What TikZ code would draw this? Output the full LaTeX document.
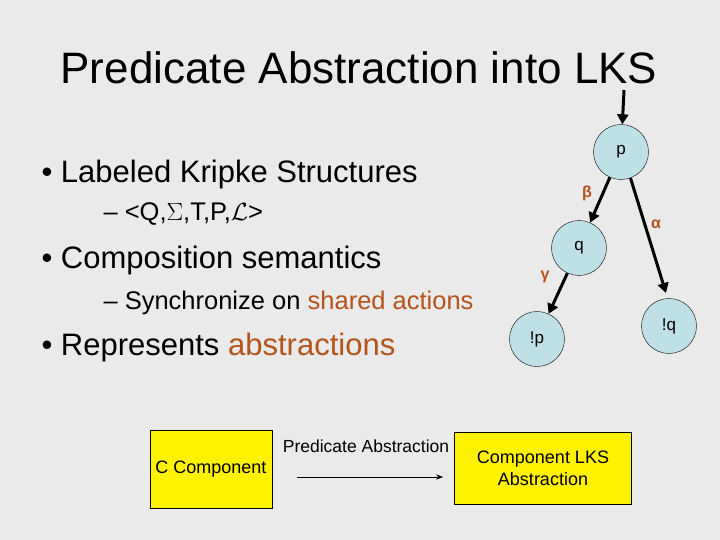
\documentclass[tikz,border=0pt]{standalone}
\usepackage{fontspec}
\setmainfont{Liberation Sans}
\usetikzlibrary{arrows.meta}
\definecolor{bg}{HTML}{EAEAEA}
\definecolor{st}{HTML}{BFE0E6}
\definecolor{lab}{HTML}{B5531A}
\tikzset{
 state/.style={circle,draw=black,fill=st,minimum size=55pt,inner sep=0pt,font=\fontsize{17}{19}\selectfont},
 edge/.style={line width=3pt,-{Triangle[length=10pt,width=11pt]}},
 elab/.style={text=lab,font=\fontsize{16}{19}\selectfont\bfseries},
 ybox/.style={draw=black,fill=yellow,font=\fontsize{18}{22}\selectfont,align=center},
 bul/.style={anchor=west,font=\fontsize{31}{36}\selectfont},
 sub/.style={anchor=west,font=\fontsize{25.5}{30}\selectfont}
}
\begin{document}
\begin{tikzpicture}[x=1pt,y=-1pt]
\fill[bg] (0,0) rectangle (720,540);
\useasboundingbox (0,0) rectangle (720,540);
\node[font=\fontsize{44}{48}\selectfont] (title) at (359,68) {Predicate Abstraction into LKS};
\node[bul] (b1) at (38,174) {• Labeled Kripke Structures};
\node[sub] (s1) at (100,214) {– <Q,$\Sigma$,T,P,$\mathcal{L}$>};
\node[bul] (b2) at (38,260) {• Composition semantics};
\node[sub] (s2) at (100,303) {– Synchronize on \textcolor{lab}{shared actions}};
\node[bul] (b3) at (38,347) {• Represents \textcolor{lab}{abstractions}};
\node[state] (p) at (621,152) {p};
\node[state] (q) at (579,248) {q};
\node[state] (np) at (537,339) {!p};
\node[state] (nq) at (669,326) {!q};
\coordinate (in) at (624,90);
\draw[edge] (in) -- (p);
\draw[edge] (p) -- (q);
\draw[edge] (q) -- (np);
\coordinate (aend) at (666,293);
\draw[edge] (p.-70) -- (aend);
\node[elab] (beta) at (587,193) {β};
\node[elab] (alpha) at (656,224) {α};
\node[elab] (gamma) at (545,277) {γ};
\node[ybox,minimum width=122pt,minimum height=78pt] (c) at (211,469) {C Component};
\node[ybox,minimum width=177pt,minimum height=72pt] (lks) at (543,468) {Component LKS\\Abstraction};
\coordinate (a1) at (297,477);
\coordinate (a2) at (443,477);
\draw[-{Stealth[length=7pt]}] (a1) -- (a2);
\node[font=\fontsize{17.5}{20}\selectfont] (pa) at (366,446) {Predicate Abstraction};
\end{tikzpicture}
\end{document}
